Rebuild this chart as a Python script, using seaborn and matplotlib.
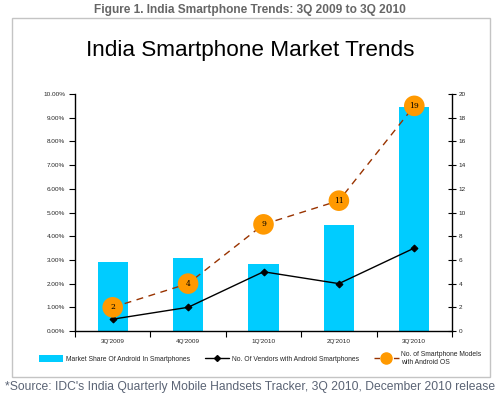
import numpy as np
import pandas as pd
import matplotlib
matplotlib.use("Agg")
import matplotlib.pyplot as plt
from matplotlib.patches import Rectangle, Patch
from matplotlib.lines import Line2D
from matplotlib.ticker import FuncFormatter, MultipleLocator, FixedLocator
import seaborn as sns

quarters = ["3Q'2009", "4Q'2009", "1Q'2010", "2Q'2010", "3Q'2010"]
android_share = [2.91, 3.08, 2.83, 4.47, 9.46]   # percent
vendors = [1, 2, 5, 4, 7]
models = [2, 4, 9, 11, 19]

bar_label = "Market Share Of Android In Smartphones"
vend_label = "No. Of Vendors with Android Smartphones"
model_label = "No. of Smartphone Models\nwith Android OS"

sns.set_theme(style="white")
plt.rcParams['font.family'] = ['Liberation Sans', 'DejaVu Sans']

df = pd.DataFrame({"q": quarters, "share": android_share,
                   "vendors": vendors, "models": models})
df["pos"] = np.arange(len(quarters))

fig = plt.figure(figsize=(5.0, 3.97), dpi=100)
fig.patch.set_facecolor("white")

# outer frame
fig.patches.append(Rectangle((0.024, 0.050), 0.956, 0.904, transform=fig.transFigure,
                             fill=False, edgecolor="#c4c4c4", linewidth=1.0))

fig.text(0.5, 0.975, "Figure 1. India Smartphone Trends: 3Q 2009 to 3Q 2010",
         ha="center", va="center", fontsize=8.6, fontweight="bold", color="#666666")
fig.text(0.5, 0.872, "India Smartphone Market Trends", ha="center", va="center",
         fontsize=16.2, color="black")
fig.text(0.5, 0.025, "*Source: IDC's India Quarterly Mobile Handsets Tracker, 3Q 2010, December 2010 release",
         ha="center", va="center", fontsize=8.7, color="#5b6475")

ax = fig.add_axes([0.150, 0.1662, 0.754, 0.597])
sns.barplot(data=df, x="pos", y="share", ax=ax, color="#00CCFF", width=0.4,
            saturation=1, native_scale=False)
for p in ax.patches:
    p.set_edgecolor("none")
ax.set_xlim(-0.5, len(quarters) - 0.5)
ax.set_ylim(0, 10)
ax.yaxis.set_major_locator(MultipleLocator(1))
ax.yaxis.set_major_formatter(FuncFormatter(lambda v, _: f"{v:.2f}%"))
ax.set_xticks(df["pos"])
ax.set_xticklabels(quarters)
ax.xaxis.set_minor_locator(FixedLocator(np.arange(-0.5, len(quarters), 1.0)))
ax.tick_params(axis="x", which="major", length=0, labelsize=4.6, pad=6)
ax.tick_params(axis="x", which="minor", length=4, width=0.8, direction="out", color="black", bottom=True)
ax.tick_params(axis="y", which="major", length=4, width=0.8, direction="out", color="black",
               labelsize=4.6, left=True, pad=3)
ax.set_xlabel("")
ax.set_ylabel("")
for s in ["top", "right"]:
    ax.spines[s].set_visible(False)
for s in ["left", "bottom"]:
    ax.spines[s].set_color("black")
    ax.spines[s].set_linewidth(1.0)
ax.set_facecolor("none")

ax2 = ax.twinx()
sns.lineplot(data=df, x="pos", y="vendors", ax=ax2, color="black", linewidth=1.0,
             marker="D", markersize=3.5, markeredgecolor="black", legend=False)
sns.lineplot(data=df, x="pos", y="models", ax=ax2, color="#993300", linewidth=1.0,
             linestyle=(0, (5, 4)), legend=False)
ax2.scatter(df["pos"], df["models"], s=220, color="#FF9900", zorder=5, edgecolors="none")
for x, m in zip(df["pos"], df["models"]):
    ax2.text(x, m, str(m), ha="center", va="center", fontsize=5.5, color="black", zorder=6,
             family=["DejaVu Serif"])
ax2.set_ylim(0, 20)
ax2.set_xlim(-0.5, len(quarters) - 0.5)
ax2.yaxis.set_major_locator(MultipleLocator(2))
ax2.tick_params(axis="y", length=6, width=0.8, direction="inout", color="black",
                labelsize=4.6, right=True, pad=2)
ax2.set_xlabel("")
ax2.set_ylabel("")
for s in ["top", "left", "bottom"]:
    ax2.spines[s].set_visible(False)
ax2.spines["right"].set_color("black")
ax2.spines["right"].set_linewidth(1.0)

handles = [Patch(facecolor="#00CCFF", edgecolor="none"),
           Line2D([], [], color="black", lw=1.0, marker="D", markersize=3),
           Line2D([], [], color="#993300", lw=1.0, linestyle=(0, (4, 3)),
                  marker="o", markersize=8, markerfacecolor="#FF9900", markeredgecolor="#FF9900")]
leg = fig.legend(handles, [bar_label, vend_label, model_label], loc="center",
                 bbox_to_anchor=(0.52, 0.098), ncol=3, frameon=False, fontsize=4.9,
                 handlelength=3.6, columnspacing=2.2, handletextpad=0.4, handleheight=1.2,
                 numpoints=1, markerfirst=True)
leg.legend_handles[2].set_marker("o")

fig.savefig("out.png", dpi=100, facecolor="white")
